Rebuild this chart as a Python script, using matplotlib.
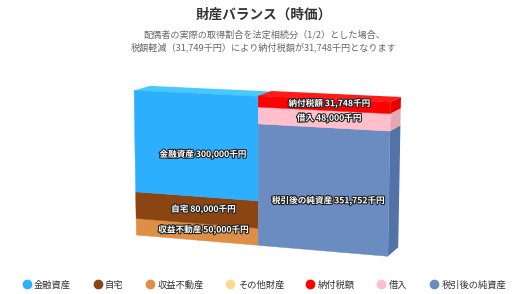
import matplotlib
matplotlib.use('Agg')
import matplotlib.pyplot as plt
import matplotlib.patheffects as pe
import numpy as np
from matplotlib.colors import to_rgb
from matplotlib.lines import Line2D

plt.rcParams['font.family'] = ['Noto Sans CJK JP', 'DejaVu Sans']

# ---- data ----
categories = ['資産', '負債・純資産']
series_names = ['金融資産', '自宅', '収益不動産', 'その他財産', '納付税額', '借入', '税引後の純資産']
series_colors = ['#2CAFFE', '#8B4513', '#DC8F45', '#FFD98E', '#FF0000', '#FFC0CB', '#6A8CC1']
kinyu = [300000, 0]
jitaku = [80000, 0]
shueki = [50000, 0]
sonota = [0, 0]
nofu = [0, 31748]
kariire = [0, 48000]
junshisan = [0, 351752]
series_values = [kinyu, jitaku, shueki, sonota, nofu, kariire, junshisan]

title = '財産バランス（時価）'
subtitle1 = '配偶者の実際の取得割合を法定相続分（1/2）とした場合、'
subtitle2 = '税額軽減（31,749千円）により納付税額が31,748千円となります'
unit = '千円'

# ---- layout / 3D view options ----
W, H, DPI = 528, 294, 100
UX = 135.0            # px per category (world, before rotation)
H_PX = 152.0          # px of the value range (world)
DEPTH = 0.296         # column depth in category units
BETA, ALPHA = 20.0, 10.5
VIEW = 1440.0         # viewing distance, px
CX, CY = 258.2, 171.3 # projection centre, px from top-left
LABEL_FRAC = 0.38     # label height within a segment

ncat = len(categories)
totals = [sum(series_values[s][c] for s in range(len(series_names))) for c in range(ncat)]
vmax = max(totals)
UY = H_PX / vmax
VC = vmax / 2.0
XC = ncat / 2.0
cb, sb = np.cos(np.radians(BETA)), np.sin(np.radians(BETA))
ca, sa = np.cos(np.radians(ALPHA)), np.sin(np.radians(ALPHA))


def project(x, v, d):
    """perspective projection of (category x, value v, depth d) -> data coords"""
    X = (np.asarray(x, float) - XC) * UX
    Y = (np.asarray(v, float) - VC) * UY
    Z = np.asarray(d, float) * UX
    X1 = X * cb + Z * sb
    Z1 = -X * sb + Z * cb
    Y2 = Y * ca + Z1 * sa
    Z2 = -Y * sa + Z1 * ca
    s = VIEW / (VIEW + Z2)
    return XC + X1 * s / UX, VC + Y2 * s / UY


def brighten(c, a):
    r = np.array(to_rgb(c)) + a
    return tuple(np.clip(r, 0, 1))


fig = plt.figure(figsize=(W / DPI, H / DPI), dpi=DPI)
ax = fig.add_axes([0, 0, 1, 1])
ax.set_xlim(XC - CX / UX, XC + (W - CX) / UX)
ax.set_ylim(VC - (H - CY) / UY, VC + CY / UY)
ax.set_axis_off()

labels = []
for ci in range(ncat):
    x0, x1 = ci, ci + 1
    segs = []
    bottom = 0
    for si in reversed(range(len(series_names))):
        v = series_values[si][ci]
        if v <= 0:
            continue
        segs.append((bottom, bottom + v, series_colors[si], series_names[si], v))
        bottom += v
    # right side faces (visible for the right-most column)
    if ci == ncat - 1:
        for b, t, c, n, v in segs:
            px, py = project([x1, x1, x1, x1], [b, t, t, b], [0, 0, DEPTH, DEPTH])
            ax.fill(px, py, color=brighten(c, -0.1), lw=0, zorder=2)
    # top face of the stack
    b, t, c, n, v = segs[-1]
    px, py = project([x0, x1, x1, x0], [t, t, t, t], [0, 0, DEPTH, DEPTH])
    ax.fill(px, py, color=brighten(c, 0.1), lw=0, zorder=2)
    # front faces
    for b, t, c, n, v in segs:
        px, py = project([x0, x1, x1, x0], [b, b, t, t], [0, 0, 0, 0])
        ax.fill(px, py, color=c, lw=0.3, edgecolor=c, zorder=3)
        lx, ly = project(ci + 0.5, b + (t - b) * LABEL_FRAC, DEPTH / 2)
        labels.append((float(lx), float(ly), f'{n} {v:,}{unit}'))

for lx, ly, s in labels:
    ax.text(lx, ly, s, ha='center', va='center', fontsize=6.2, fontweight='bold',
            color='white', zorder=10,
            path_effects=[pe.withStroke(linewidth=1.6, foreground='#222222')])

fig.text(0.5, 1 - 15 / H, title, ha='center', va='center', fontsize=9.8,
         fontweight='bold', color='#333333')
fig.text(0.5, 1 - 35 / H, subtitle1, ha='center', va='center', fontsize=6.6,
         color='#666666')
fig.text(0.5, 1 - 47 / H, subtitle2, ha='center', va='center', fontsize=6.6,
         color='#666666')

handles = [Line2D([], [], marker='o', linestyle='', markersize=6,
                  markerfacecolor=c, markeredgecolor=c) for c in series_colors]
fig.legend(handles, series_names, loc='center', bbox_to_anchor=(0.5, 9 / H),
           ncol=7, frameon=False, fontsize=6.7, handletextpad=0.3,
           columnspacing=2.35, handlelength=1.0, labelcolor='#333333')

fig.savefig('out.png', dpi=DPI)
